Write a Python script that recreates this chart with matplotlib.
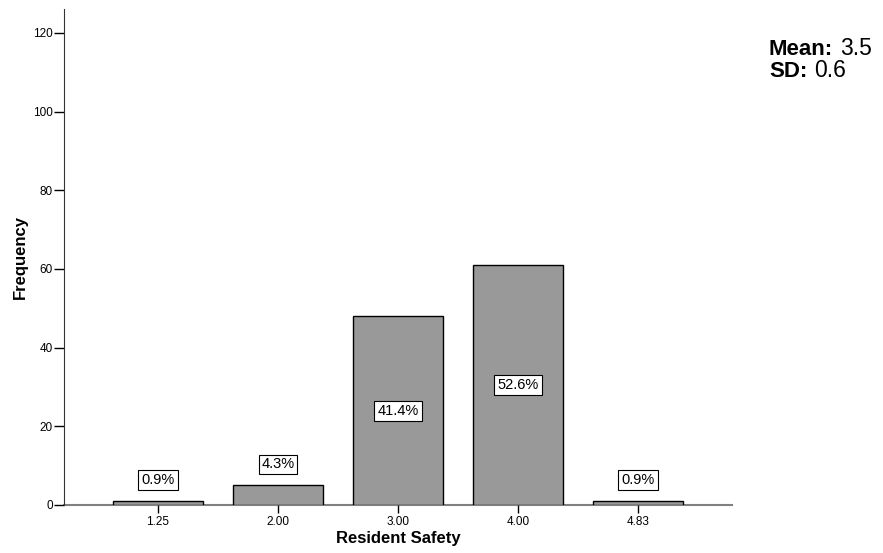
import numpy as np
import matplotlib.pyplot as plt

plt.rcParams['font.family'] = ['Liberation Sans', 'DejaVu Sans']

categories = ['1.25', '2.00', '3.00', '4.00', '4.83']
counts = [1, 5, 48, 61, 1]
pct_labels = ['0.9%', '4.3%', '41.4%', '52.6%', '0.9%']
mean_val = '3.5'
sd_val = '0.6'

fig = plt.figure(figsize=(8.83, 5.53), dpi=100)
ax = fig.add_axes([0.0725, 0.0868, 0.7565, 0.897])

x = np.arange(len(categories))
ax.bar(x, counts, width=0.75, color='#999999', edgecolor='black', linewidth=1, zorder=2)

# labels: inside the bar if tall, above it if short
for xi, c, lab in zip(x, counts, pct_labels):
    if c > 20:
        y = c / 2
    else:
        y = c + 5.3
    ax.text(xi, y, lab, ha='center', va='center', fontsize=10.5,
            bbox=dict(boxstyle='square,pad=0.2', fc='white', ec='black', lw=0.8), zorder=3)

ax.set_xlim(-0.783, 4.783)
ax.set_ylim(0, 126.1)
ax.set_yticks([0, 20, 40, 60, 80, 100, 120])
ax.set_xticks(x)
ax.set_xticklabels(categories)
ax.tick_params(axis='y', length=7, width=1, labelsize=8.5, pad=1)
ax.tick_params(axis='x', length=6, width=1, labelsize=8.5, pad=2)

for s in ['top', 'right']:
    ax.spines[s].set_visible(False)
ax.spines['left'].set_color('#333333')
ax.spines['bottom'].set_color('#808080')
ax.spines['bottom'].set_linewidth(1.5)
ax.spines['bottom'].set_zorder(1)

ax.set_xlabel('Resident Safety', fontsize=12, fontweight='bold', labelpad=2)
ax.set_ylabel('Frequency', fontsize=12, fontweight='bold', labelpad=4)

fig.text(769 / 883, 1 - 55 / 553, 'Mean:', fontsize=16, fontweight='bold', va='baseline')
fig.text(840 / 883, 1 - 55 / 553, mean_val, fontsize=16.5, va='baseline')
fig.text(769 / 883, 1 - 77 / 553, 'SD:', fontsize=16, fontweight='bold', va='baseline')
fig.text(814 / 883, 1 - 77 / 553, sd_val, fontsize=16.5, va='baseline')

fig.savefig('out.png', dpi=100)
